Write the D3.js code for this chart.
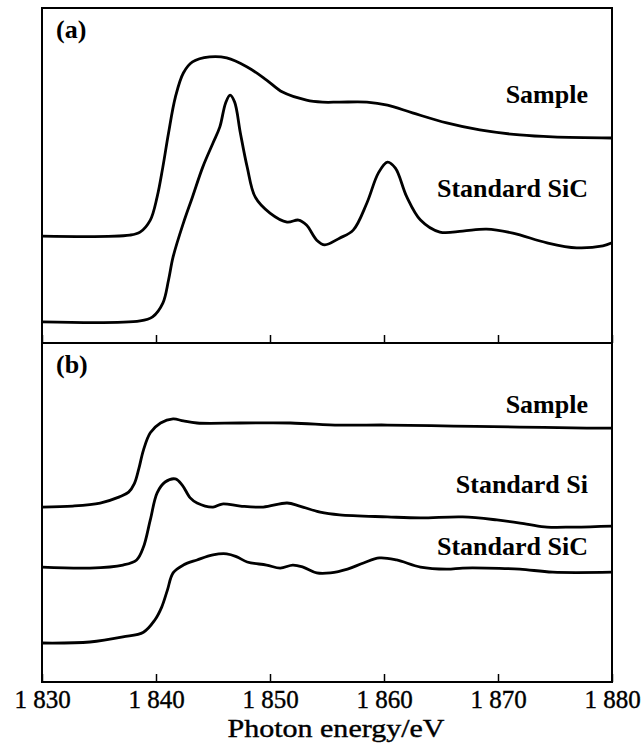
<!DOCTYPE html>
<html>
<head>
<meta charset="utf-8">
<script src="https://cdn.jsdelivr.net/npm/d3@7"></script>
<style>
  body { margin: 0; background: #fff; }
  svg text { font-family: "Liberation Serif", "Times New Roman", serif; fill: #000; }
</style>
</head>
<body>
<div class="chart"></div>
<script>
// x tick values (photon energy, eV)
var energyTicks = [1830, 1840, 1850, 1860, 1870, 1880];

// panel (a): [energy, intensity a.u.]
var sampleA = [
  [1830, 3.19], [1837.7, 3.22], [1838.6, 3.31], [1839.5, 3.67], [1840.1, 4.36],
  [1840.6, 5.25], [1841.1, 6.27], [1841.7, 7.34], [1842.4, 8.06], [1843.2, 8.39],
  [1844.7, 8.54], [1846.2, 8.51], [1848.0, 8.24], [1849.7, 7.85], [1851.1, 7.49],
  [1853.2, 7.25], [1854.6, 7.19], [1856.1, 7.19], [1858.5, 7.19], [1860.3, 7.10],
  [1862.5, 6.87], [1865.5, 6.57], [1868.4, 6.36], [1871.9, 6.21], [1874.8, 6.15],
  [1880, 6.12]
];
var sicA = [
  [1830, 0.63], [1838.6, 0.66], [1839.7, 0.78], [1840.6, 1.19], [1841.1, 1.88],
  [1841.5, 2.57], [1842.4, 3.58], [1843.2, 4.36], [1844.1, 5.25], [1845.0, 5.97],
  [1845.6, 6.45], [1846.1, 7.16], [1846.5, 7.40], [1846.9, 7.19], [1847.4, 6.27],
  [1848.0, 5.25], [1848.7, 4.36], [1850.0, 3.88], [1851.5, 3.61], [1852.5, 3.67],
  [1853.2, 3.52], [1854.1, 3.07], [1854.8, 2.93], [1856.1, 3.13], [1857.3, 3.37],
  [1858.5, 4.18], [1859.5, 5.07], [1860.3, 5.40], [1861.0, 5.22], [1862.0, 4.36],
  [1863.2, 3.67], [1864.9, 3.31], [1866.9, 3.34], [1869.0, 3.40], [1871.3, 3.28],
  [1874.3, 2.99], [1876.9, 2.84], [1879.2, 2.90], [1880, 2.99]
];

// panel (b)
var sampleB = [
  [1830, 5.16], [1832.7, 5.19], [1835.1, 5.28], [1836.8, 5.46], [1837.6, 5.60],
  [1838.1, 5.85], [1838.5, 6.30], [1838.9, 6.84], [1839.5, 7.35], [1840.4, 7.64],
  [1841.5, 7.76], [1842.4, 7.70], [1843.6, 7.64], [1847.4, 7.64], [1851.8, 7.64],
  [1856.1, 7.58], [1860.3, 7.58], [1866.1, 7.55], [1871.9, 7.52], [1877.8, 7.49],
  [1880, 7.49]
];
var siB = [
  [1830, 3.39], [1834.2, 3.36], [1837.1, 3.45], [1838.3, 3.60], [1838.9, 3.98],
  [1839.5, 4.78], [1840.1, 5.58], [1840.8, 5.90], [1841.7, 5.99], [1842.3, 5.81],
  [1843.0, 5.43], [1843.6, 5.28], [1845.0, 5.16], [1845.8, 5.25], [1847.4, 5.19],
  [1849.4, 5.16], [1851.5, 5.28], [1852.6, 5.19], [1854.4, 5.01], [1856.1, 4.93],
  [1860.3, 4.87], [1863.2, 4.84], [1866.9, 4.87], [1869.9, 4.78], [1872.5, 4.66],
  [1874.3, 4.57], [1876.6, 4.57], [1880, 4.60]
];
var sicB = [
  [1830, 1.15], [1834.2, 1.18], [1837.1, 1.33], [1838.9, 1.47], [1839.9, 1.83],
  [1840.5, 2.21], [1841.0, 2.71], [1841.5, 3.22], [1842.4, 3.45], [1843.6, 3.60],
  [1845.0, 3.75], [1846.2, 3.78], [1847.1, 3.69], [1848.0, 3.54], [1849.7, 3.45],
  [1850.9, 3.36], [1852.0, 3.45], [1852.9, 3.39], [1854.1, 3.22], [1855.3, 3.22],
  [1856.8, 3.33], [1858.2, 3.51], [1859.6, 3.66], [1861.1, 3.60], [1863.2, 3.39],
  [1865.5, 3.33], [1866.9, 3.36], [1869.0, 3.36], [1871.9, 3.33], [1874.8, 3.24],
  [1880, 3.24]
];

var W = 644, H = 748;
var left = 42, right = 612;
var panels = [
  { tag: "(a)", top: 8, bottom: 343, series: [sampleA, sicA],
    labels: [["Sample", 103], ["Standard SiC", 197]] },
  { tag: "(b)", top: 343, bottom: 682, series: [sampleB, siB, sicB],
    labels: [["Sample", 413], ["Standard Si", 493], ["Standard SiC", 555]] }
];

var svg = d3.select(".chart").append("svg")
  .attr("width", W)
  .attr("height", H);

var x = d3.scaleLinear().domain([1830, 1880]).range([left, right]);

panels.forEach(function(p, k) {
  var y = d3.scaleLinear().domain([0, 10]).range([p.bottom, p.top]);
  var g = svg.append("g").attr("class", "panel" + k);

  var line = d3.line()
    .x(function(d) { return x(d[0]); })
    .y(function(d) { return y(d[1]); })
    .curve(d3.curveCatmullRom.alpha(0.5));

  g.selectAll("path.trace").data(p.series).enter()
    .append("path")
    .attr("class", "trace")
    .attr("d", line)
    .style("fill", "none")
    .style("stroke", "#000")
    .style("stroke-width", 2.8)
    .style("stroke-linejoin", "round");

  // inward ticks on the bottom edge of each panel
  var axis = d3.axisBottom(x)
    .tickValues(energyTicks)
    .tickSizeInner(-8)
    .tickSizeOuter(0)
    .tickFormat(function(d) {
      return k == 1 ? String(d).replace(/^(\d)/, "$1 ") : "";
    });
  var ax = g.append("g")
    .attr("transform", "translate(0," + p.bottom + ")")
    .call(axis);
  ax.select(".domain").remove();
  ax.selectAll(".tick line").style("stroke", "#000").style("stroke-width", 1.5);
  ax.selectAll(".tick text")
    .attr("y", 26)
    .attr("dy", 0)
    .style("font-size", "25px")
    .style("font-family", "'Liberation Serif', serif")
    .style("stroke", "#000")
    .style("stroke-width", 0.4);

  g.append("rect")
    .attr("x", left)
    .attr("y", p.top)
    .attr("width", right - left)
    .attr("height", p.bottom - p.top)
    .style("fill", "none")
    .style("stroke", "#000")
    .style("stroke-width", 2);

  g.append("text")
    .attr("x", 56)
    .attr("y", p.top + 30)
    .style("font-size", "26px")
    .style("font-weight", "bold")
    .text(p.tag);

  g.selectAll("text.lbl").data(p.labels).enter()
    .append("text")
    .attr("class", "lbl")
    .attr("x", 588)
    .attr("y", function(d) { return d[1]; })
    .attr("text-anchor", "end")
    .style("font-size", "26px")
    .style("font-weight", "bold")
    .text(function(d) { return d[0]; });
});

svg.append("text")
  .attr("x", 336)
  .attr("y", 737)
  .attr("text-anchor", "middle")
  .attr("textLength", 217)
  .attr("lengthAdjust", "spacingAndGlyphs")
  .style("font-size", "26px")
  .style("stroke", "#000")
  .style("stroke-width", 0.4)
  .text("Photon energy/eV");
</script>
</body>
</html>
